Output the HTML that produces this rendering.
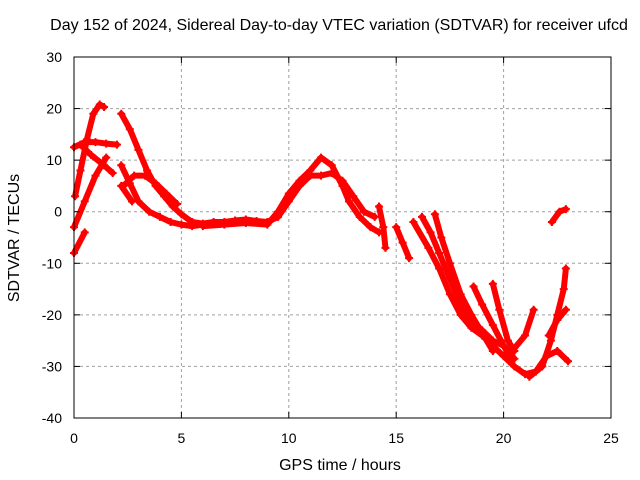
<!DOCTYPE html>
<html><head><meta charset="utf-8"><style>
body{margin:0;background:#fff}
svg{display:block;font-family:"Liberation Sans",sans-serif}
</style></head><body>
<svg id="chart" width="640" height="480">
<text x="339" y="30" font-size="16" text-anchor="middle">Day 152 of 2024, Sidereal Day-to-day VTEC variation (SDTVAR) for receiver ufcd</text>
<text x="340" y="470" font-size="16" text-anchor="middle">GPS time / hours</text>
<text transform="translate(19,238) rotate(-90)" font-size="16" text-anchor="middle">SDTVAR / TECUs</text>
<g id="grid"></g><g id="marks"></g><g id="axes"></g>
</svg>
<script>
const xTicks=[0,5,10,15,20,25];
const yTicks=[30,20,10,0,-10,-20,-30,-40];
const trackA=[[0.05,3],[0.3,8],[0.6,14],[0.9,19],[1.2,20.8],[1.4,20.3]];
const trackB=[[0,-3],[0.5,2],[1.0,7],[1.5,10.5]];
const trackC=[[0,-8],[0.5,-4]];
const trackD=[[0,12.5],[0.5,13.5],[1.0,13.5],[1.5,13.2],[2.0,13]];
const trackE=[[0.3,13],[0.8,11],[1.4,9],[1.8,7.5]];
const trackF=[[2.2,19],[2.6,16],[3.0,12],[3.4,8],[3.8,5],[4.2,3],[4.6,1],[5.0,-0.5],[5.5,-2]];
const trackG=[[2.3,5],[2.8,7],[3.3,7],[3.8,5.5],[4.3,3.5],[4.8,1.5]];
const trackH=[[2.2,9],[2.6,5.5],[3.0,2],[3.5,0],[4.0,-1],[4.5,-2],[5,-2.5],[5.5,-2.8],[6,-2.5]];
const trackI=[[2.2,5],[2.7,2]];
const trackJ=[[5.5,-2],[6,-2.3],[6.5,-2],[7,-2],[7.5,-1.7],[8,-1.5],[8.5,-1.8],[9,-2],[9.5,-1],[10,2],[10.5,5],[11,7],[11.5,7],[12,7.5],[12.5,6],[13,3],[13.5,0],[14,-1]];
const trackK=[[6,-2.8],[7,-2.5],[8,-2.2],[9,-2.5],[9.5,0],[10,3.5],[10.5,6],[11,8],[11.5,10.5],[12,9],[12.5,5],[12.8,2],[13.3,-1],[13.8,-3],[14.2,-4]];
const trackL=[[14.2,1],[14.4,-3],[14.5,-7]];
const trackM=[[15.0,-3],[15.3,-6],[15.6,-9]];
const trackN=[[15.8,-2],[16.5,-7],[17,-11],[17.5,-16],[18,-20],[18.5,-22.5],[19,-24],[19.5,-26],[20,-28],[20.5,-30],[21,-31.5],[21.5,-31],[22,-28],[22.5,-27],[23,-29]];
const trackO=[[16.2,-1],[16.6,-4],[17,-8],[17.5,-13],[18,-18],[18.5,-21],[19,-23],[19.5,-25],[20,-26],[20.5,-28.5]];
const trackP=[[16.8,-0.5],[17.1,-5],[17.5,-10],[18,-16],[18.5,-20],[19,-23.5],[19.5,-27]];
const trackQ=[[18.6,-14.5],[19,-18],[19.5,-22],[20,-26],[20.3,-28]];
const trackR=[[19.5,-14],[19.8,-19],[20.2,-25],[20.5,-27]];
const trackS=[[20.3,-27.5],[21,-24],[21.4,-19]];
const trackT=[[21.2,-32],[21.8,-30],[22.2,-25],[22.5,-20],[22.8,-15],[22.9,-11]];
const trackU=[[22.1,-24],[22.5,-21],[22.9,-19]];
const trackV=[[22.25,-2],[22.6,0],[22.9,0.5]];
const tracks=[trackA,trackB,trackC,trackD,trackE,trackF,trackG,trackH,trackI,trackJ,trackK,trackL,trackM,trackN,trackO,trackP,trackQ,trackR,trackS,trackT,trackU,trackV];
const L=74,R=611,T=57,B=418;
const X=h=>L+(h-0)/25*(R-L);
const Y=v=>T+(30-v)/70*(B-T);
const NS="http://www.w3.org/2000/svg";
function mk(tag,attrs,parent){const e=document.createElementNS(NS,tag);for(const k in attrs)e.setAttribute(k,attrs[k]);parent.appendChild(e);return e;}
const grid=document.getElementById('grid'),marks=document.getElementById('marks'),axes=document.getElementById('axes');
xTicks.forEach(t=>{
 if(t>0&&t<25){const g=mk('line',{x1:X(t),x2:X(t),y1:T,y2:B,stroke:'#a0a0a0','stroke-dasharray':'3,3'},grid);
 
 }
 mk('line',{x1:X(t),x2:X(t),y1:B,y2:B-6,stroke:'#000'},axes);
 mk('line',{x1:X(t),x2:X(t),y1:T,y2:T+6,stroke:'#000'},axes);
 const tx=mk('text',{x:X(t),y:B+25,'font-size':14,'text-anchor':'middle'},axes);tx.textContent=t;
 
 
});
yTicks.forEach(t=>{
 if(t<30&&t>-40){const g=mk('line',{x1:L,x2:R,y1:Y(t),y2:Y(t),stroke:'#a0a0a0','stroke-dasharray':'3,3'},grid);
 
 }
 mk('line',{x1:L,x2:L+6,y1:Y(t),y2:Y(t),stroke:'#000'},axes);
 mk('line',{x1:R,x2:R-6,y1:Y(t),y2:Y(t),stroke:'#000'},axes);
 const tx=mk('text',{x:L-12,y:Y(t)+5,'font-size':14,'text-anchor':'end'},axes);tx.textContent=t;
 
 
});
const frame=mk('rect',{x:L,y:T,width:R-L,height:B-T,fill:'none',stroke:'#000'},axes);


tracks.forEach(tr=>{
 const pl=mk('polyline',{points:tr.map(p=>X(p[0])+','+Y(p[1])).join(' '),fill:'none',stroke:'#f00','stroke-width':6,'stroke-linejoin':'round','stroke-linecap':'round'},marks);
 
 
 tr.forEach(p=>{
  const m=mk('path',{d:`M${X(p[0])-4},${Y(p[1])}h8M${X(p[0])},${Y(p[1])-4}v8`,stroke:'#f00','stroke-width':2},marks);
  
  
 });
});
</script>
</body></html>
